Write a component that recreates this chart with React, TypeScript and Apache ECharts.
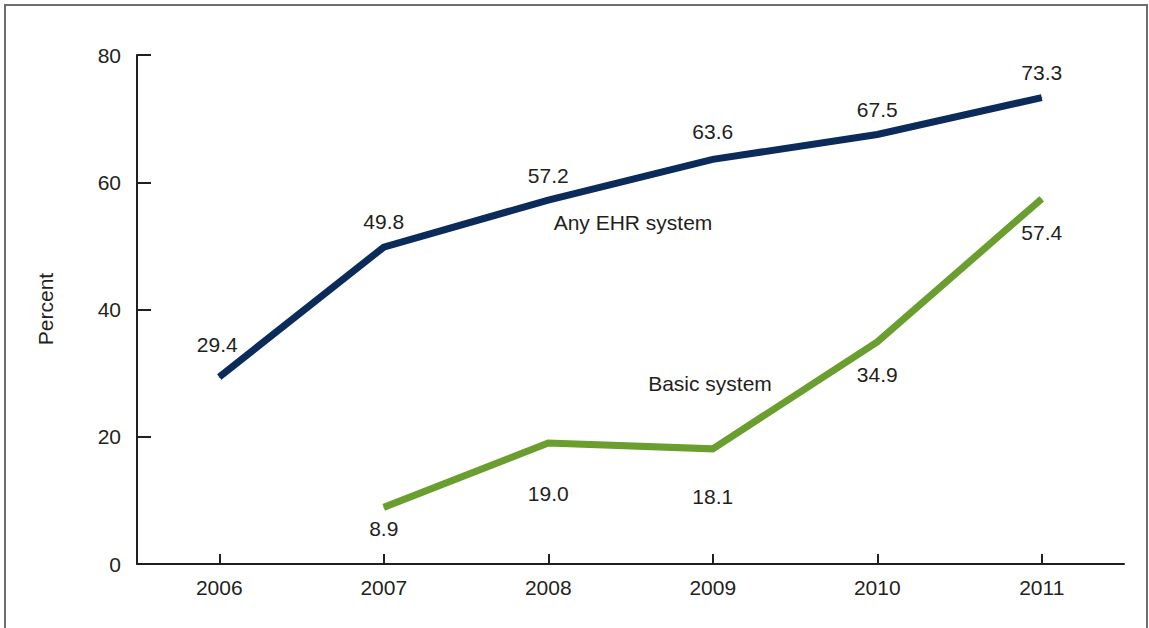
import React, { useEffect, useRef } from "react";
import * as echarts from "echarts";

// Percent of office-based physicians with EHR systems, by year
const years = ["2006", "2007", "2008", "2009", "2010", "2011"];
const anyEhr = [29.4, 49.8, 57.2, 63.6, 67.5, 73.3];
const basicSystem: (number | null)[] = [null, 8.9, 19.0, 18.1, 34.9, 57.4];
const yTicks = { min: 0, max: 80, interval: 20 };

// Label nudges (pixels) around each point
const anyLabelOffsets = [[-2, -32], [0, -26], [0, -25], [0, -28], [0, -25], [0, -25]];
const basicLabelOffsets = [[0, 0], [0, 21], [0, 50], [0, 48], [0, 33], [0, 34]];

const FONT = "'Liberation Sans', Arial, sans-serif";
const TEXT = "#231f20";
const FS = 21;

function buildData(values: (number | null)[], offsets: number[][]) {
  return values.map((v, i) => ({
    value: v,
    label: { offset: offsets[i] },
  }));
}

export default function App() {
  const ref = useRef<HTMLDivElement>(null);

  useEffect(() => {
    if (!ref.current) return;
    const chart = echarts.init(ref.current, null, { renderer: "svg" });
    const labelBase = {
      show: true,
      position: "inside" as const,
      fontFamily: FONT,
      fontSize: FS,
      color: TEXT,
      formatter: (p: any) => Number(p.value).toFixed(1),
    };
    chart.setOption({
      animation: false,
      backgroundColor: "#ffffff",
      grid: { left: 137, right: 25, top: 55, bottom: 64, containLabel: false },
      xAxis: {
        type: "category",
        data: years,
        boundaryGap: true,
        axisLine: { lineStyle: { color: TEXT, width: 2 } },
        axisTick: {
          show: true,
          inside: true,
          alignWithLabel: true,
          length: 10,
          lineStyle: { color: TEXT, width: 2 },
        },
        axisLabel: { fontFamily: FONT, fontSize: FS, color: TEXT, margin: 13 },
        splitLine: { show: false },
      },
      yAxis: {
        type: "value",
        min: yTicks.min,
        max: yTicks.max,
        interval: yTicks.interval,
        axisLine: { show: true, lineStyle: { color: TEXT, width: 2 } },
        axisTick: {
          show: true,
          inside: true,
          length: 14,
          lineStyle: { color: TEXT, width: 2 },
        },
        axisLabel: { fontFamily: FONT, fontSize: FS, color: TEXT, margin: 16 },
        splitLine: { show: false },
      },
      series: [
        {
          name: "Any EHR system",
          type: "line",
          data: buildData(anyEhr, anyLabelOffsets),
          symbol: "circle",
          symbolSize: 1,
          showSymbol: true,
          itemStyle: { color: "#0b2c5a" },
          lineStyle: { color: "#0b2c5a", width: 7, cap: "butt", join: "miter" },
          label: labelBase,
          z: 3,
        },
        {
          name: "Basic system",
          type: "line",
          data: buildData(basicSystem, basicLabelOffsets),
          symbol: "circle",
          symbolSize: 1,
          showSymbol: true,
          connectNulls: false,
          itemStyle: { color: "#6a9e2f" },
          lineStyle: { color: "#6a9e2f", width: 7, cap: "butt", join: "miter" },
          label: labelBase,
          z: 2,
        },
      ],
      graphic: [
        {
          type: "rect",
          shape: { x: 5, y: 5, width: 1142, height: 700 },
          style: { fill: "none", stroke: "#6e6e6e", lineWidth: 2 },
          silent: true,
        },
        {
          type: "text",
          x: 45,
          y: 309,
          rotation: Math.PI / 2,
          style: {
            text: "Percent",
            fontFamily: FONT,
            fontSize: FS,
            fill: TEXT,
            align: "center",
            verticalAlign: "middle",
          },
        },
        {
          type: "text",
          x: 633,
          y: 222,
          style: {
            text: "Any EHR system",
            fontFamily: FONT,
            fontSize: FS,
            fill: TEXT,
            align: "center",
            verticalAlign: "middle",
          },
        },
        {
          type: "text",
          x: 710,
          y: 383,
          style: {
            text: "Basic system",
            fontFamily: FONT,
            fontSize: FS,
            fill: TEXT,
            align: "center",
            verticalAlign: "middle",
          },
        },
      ],
    });
    return () => chart.dispose();
  }, []);

  return (
    <div
      ref={ref}
      style={{ position: "fixed", left: 0, top: 0, width: 1149, height: 628, background: "#fff" }}
    />
  );
}
